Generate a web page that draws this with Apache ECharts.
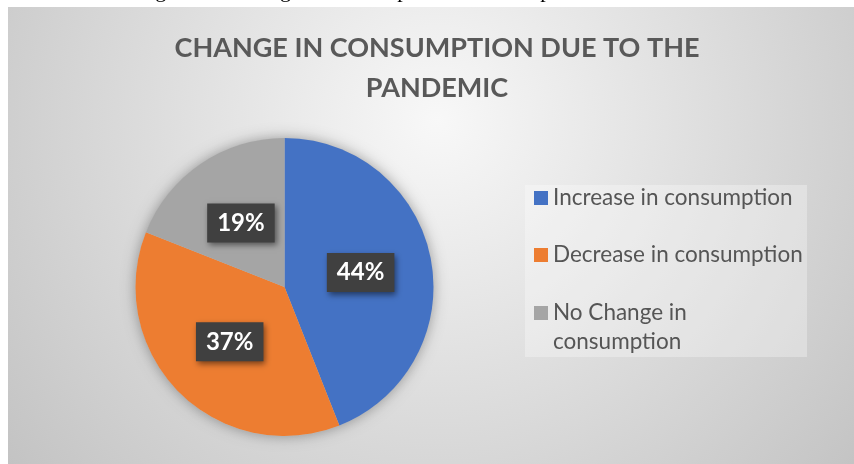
<!DOCTYPE html>
<html>
<head>
<meta charset="utf-8">
<style>
  html, body { margin: 0; padding: 0; background: #ffffff; }
  #chart { width: 854px; height: 464px; }
</style>
<script src="https://cdn.jsdelivr.net/npm/echarts@6/dist/echarts.min.js"></script>
</head>
<body>
<div id="chart"></div>
<script>
const chartTitle = 'CHANGE IN CONSUMPTION DUE TO THE\nPANDEMIC';
const captionText = 'Figure 13: Change in consumption due to the pandemic';
const categories = ['Increase in consumption', 'Decrease in consumption', 'No Change in consumption'];
const values = [44, 37, 19];
const colors = ['#4472c4', '#ed7d31', '#a5a5a5'];

const chart = echarts.init(document.getElementById('chart'), null, { renderer: 'canvas' });

const total = values.reduce((a, b) => a + b, 0);
const FONT = 'Lato, "Open Sans", sans-serif';

const option = {
  animation: false,
  backgroundColor: '#ffffff',
  graphic: [
    {
      type: 'rect',
      z: -10,
      silent: true,
      shape: { x: 8, y: 7, width: 846, height: 457 },
      style: {
        fill: new echarts.graphic.RadialGradient(437, 120, 560, [
          { offset: 0, color: '#f8f8f8' },
          { offset: 1, color: '#c2c2c2' }
        ], true)
      }
    },
    {
      type: 'rect',
      z: -5,
      silent: true,
      shape: { x: 525, y: 185, width: 282, height: 172 },
      style: { fill: 'rgba(255,255,255,0.3)' }
    },
    {
      type: 'text',
      silent: true,
      x: 137,
      y: -9,
      style: {
        text: captionText,
        font: '22px "Liberation Serif", serif',
        fill: '#000000',
        verticalAlign: 'middle'
      }
    }
  ],
  title: {
    text: chartTitle,
    left: 437,
    top: 28,
    textAlign: 'center',
    padding: 0,
    textStyle: {
      fontFamily: FONT,
      fontWeight: 'bold',
      fontSize: 27,
      lineHeight: 40,
      color: '#595959'
    }
  },
  legend: [
    {
      orient: 'vertical',
      left: 534,
      top: 183.5,
      padding: 0,
      itemWidth: 14,
      itemHeight: 14,
      itemGap: 28,
      icon: 'rect',
      data: [categories[0], categories[1]],
      selectedMode: false,
      textStyle: { fontFamily: FONT, fontSize: 22.5, lineHeight: 29, color: '#555555' }
    },
    {
      orient: 'vertical',
      left: 534,
      top: 269.5,
      padding: 0,
      itemWidth: 14,
      itemHeight: 14,
      icon: 'rect',
      data: [categories[2]],
      selectedMode: false,
      formatter: function (name) { return '\n' + name.replace('Change in ', 'Change in\n'); },
      textStyle: { fontFamily: FONT, fontSize: 22.5, lineHeight: 29, color: '#555555' }
    }
  ],
  series: [
    {
      type: 'pie',
      silent: true,
      center: [284.5, 287],
      radius: 149,
      z: 1,
      label: { show: false },
      labelLine: { show: false },
      itemStyle: {
        color: '#c0c0c0',
        shadowBlur: 14,
        shadowColor: 'rgba(0,0,0,0.35)'
      },
      data: [{ name: '', value: total }]
    },
    {
      type: 'pie',
      center: [284.5, 287],
      radius: 149,
      startAngle: 90,
      clockwise: true,
      z: 2,
      itemStyle: { borderWidth: 0 },
      label: {
        show: true,
        position: 'inside',
        formatter: '{c}%',
        fontFamily: FONT,
        fontWeight: 'bold',
        fontSize: 24,
        color: '#ffffff',
        backgroundColor: '#404040',
        padding: [8, 10, 7, 10],
        shadowColor: 'rgba(0,0,0,0.5)',
        shadowBlur: 6,
        shadowOffsetX: 2,
        shadowOffsetY: 3
      },
      labelLine: { show: false },
      emphasis: { disabled: true },
      data: categories.map((c, i) => ({ name: c, value: values[i], itemStyle: { color: colors[i] } }))
    }
  ]
};

chart.setOption(option);
</script>
</body>
</html>
